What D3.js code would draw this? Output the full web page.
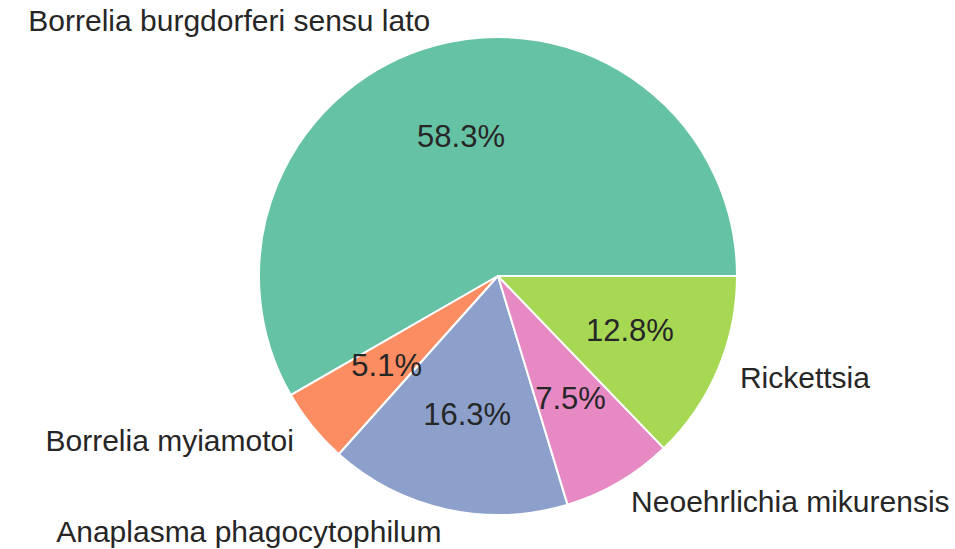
<!DOCTYPE html>
<html>
<head>
<meta charset="utf-8">
<script src="https://cdn.jsdelivr.net/npm/d3@7"></script>
<style>
  body { margin: 0; background: #fff; }
  text { font-family: Arial, "Liberation Sans", sans-serif; fill: #262626; }
</style>
</head>
<body>
<svg width="955" height="549"></svg>
<script>
const svg = d3.select('svg');

// data
const labels = ['Borrelia burgdorferi sensu lato', 'Borrelia myiamotoi', 'Anaplasma phagocytophilum',
  'Neoehrlichia mikurensis', 'Rickettsia'];
const shares = [58.3, 5.1, 16.3, 7.5, 12.8];
const colors = ['#66c2a5', '#fc8d62', '#8da0cb', '#e78ac3', '#a6d854'];

const cx = 498, cy = 276, radius = 239;

const data = labels.map((l, i) => ({ label: l, value: shares[i] }));

// counterclockwise from 3 o'clock, like matplotlib
const pie = d3.pie()
  .sort(null)
  .value(d => d.value)
  .startAngle(Math.PI / 2)
  .endAngle(Math.PI / 2 - 2 * Math.PI);

const arcs = pie(data);
const arc = d3.arc().innerRadius(0).outerRadius(radius);

const g = svg.append('g').attr('transform', `translate(${cx},${cy})`);

g.selectAll('path').data(arcs)
  .enter().append('path')
    .attr('d', arc)
    .attr('fill', (d, i) => colors[i])
    .attr('stroke', '#fff')
    .attr('stroke-width', 2)
    .attr('stroke-linejoin', 'round');

// d3 angle -> x,y point at given distance
const pos = (d, r) => {
  const a = (d.startAngle + d.endAngle) / 2;
  return [r * Math.sin(a), -r * Math.cos(a)];
};

g.selectAll('.lbl').data(arcs)
  .enter().append('text')
    .attr('class', 'lbl')
    .attr('x', d => pos(d, radius * 1.1)[0])
    .attr('y', d => pos(d, radius * 1.1)[1])
    .attr('dy', '0.3em')
    .attr('text-anchor', d => pos(d, 1)[0] > 0 ? 'start' : 'end')
    .style('font-size', '30px')
    .text(d => d.data.label);

g.selectAll('.pct').data(arcs)
  .enter().append('text')
    .attr('class', 'pct')
    .attr('x', d => pos(d, radius * 0.6)[0])
    .attr('y', d => pos(d, radius * 0.6)[1])
    .attr('dy', '0.3em')
    .attr('text-anchor', 'middle')
    .style('font-size', '31px')
    .text(d => d.data.value.toFixed(1) + '%');
</script>
</body>
</html>
